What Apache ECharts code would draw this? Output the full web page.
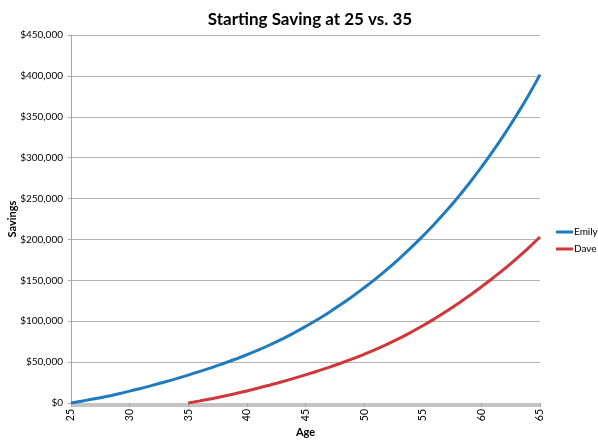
<!DOCTYPE html>
<html lang="en">
  <head>
    <meta charset="UTF-8" />
    <title>Starting Saving at 25 vs. 35</title>
    <script src="https://cdn.jsdelivr.net/npm/echarts@6.0.0/dist/echarts.min.js"></script>
    <style>
      html, body { margin: 0; padding: 0; background: #fff; }
    </style>
  </head>
  <body>
    <div id="main" style="width: 598px; height: 447px"></div>
    <script type="text/javascript">
      // ages (years) and savings
      const emilyAges = [25, 26, 27, 28, 29, 30, 31, 32, 33, 34, 35, 36, 37, 38, 39, 40, 41, 42, 43, 44, 45,
        46, 47, 48, 49, 50, 51, 52, 53, 54, 55, 56, 57, 58, 59, 60, 61, 62, 63, 64, 65];
      const emilySavings = [0, 2500, 5100, 7900, 11100, 14500, 18100, 21800, 25700, 29800, 34100,
        38600, 43300, 48300, 53500, 59000, 64900, 71300, 78200, 85600, 93500,
        101900, 110800, 120300, 130300, 140900, 152100, 164000, 176600, 189900, 204000,
        218900, 234700, 251500, 269300, 288200, 308200, 329400, 351900, 375700, 401500];

      const daveAges = [35, 36, 37, 38, 39, 40, 41, 42, 43, 44, 45, 46, 47, 48, 49, 50,
        51, 52, 53, 54, 55, 56, 57, 58, 59, 60, 61, 62, 63, 64, 65];
      const daveSavings = [0, 2600, 5300, 8200, 11300, 14700, 18300, 22100, 26000, 30100, 34400,
        38900, 43600, 48600, 53900, 59500, 65500, 72000, 79000, 86500, 94500,
        103000, 112000, 121500, 131500, 142000, 153000, 164500, 176500, 189500, 203000];

      const seriesNames = ['Emily', 'Dave'];
      const xTicks = [25, 30, 35, 40, 45, 50, 55, 60, 65];

      const pairs = (xs, ys) => xs.map((x, i) => [x, ys[i]]);
      const money = (v) => '$' + v.toLocaleString('en-US');

      const myChart = echarts.init(document.getElementById('main'), null, { renderer: 'canvas' });

      const axisGray = '#a6a6a6';
      const font = 'Lato, "Open Sans", sans-serif';

      const option = {
        animation: false,
        backgroundColor: '#fff',
        title: {
          text: 'Starting Saving at 25 vs. 35',
          left: 305,
          top: 6,
          textAlign: 'center',
          textStyle: { fontFamily: font, fontSize: 17, fontWeight: 'bold', color: '#000' },
        },
        legend: {
          data: seriesNames,
          orient: 'vertical',
          left: 551,
          top: 222,
          itemGap: 7,
          itemWidth: 17,
          itemHeight: 3,
          icon: 'rect',
          textStyle: { fontFamily: font, fontSize: 10, color: '#000', padding: [0, 0, 0, -4] },
        },
        grid: { left: 71, right: 58, top: 35, bottom: 44, containLabel: false, outerBoundsMode: 'none' },
        xAxis: {
          type: 'value',
          min: xTicks[0],
          max: xTicks[xTicks.length - 1],
          interval: 5,
          name: 'Age',
          nameLocation: 'middle',
          nameGap: 24,
          nameMoveOverlap: false,
          nameTextStyle: { fontFamily: font, fontSize: 11, fontWeight: 'bold', color: '#000' },
          axisLine: { lineStyle: { color: axisGray, width: 1 } },
          axisTick: { show: true, length: 4, lineStyle: { color: axisGray } },
          minorTick: { show: true, splitNumber: 60, length: 4, lineStyle: { color: '#c4c4c4' } },
          splitLine: { show: false },
          axisLabel: {
            rotate: 90,
            margin: 6,
            fontFamily: font,
            fontSize: 10.5,
            color: '#000',
          },
        },
        yAxis: {
          type: 'value',
          min: 0,
          max: 450000,
          interval: 50000,
          name: 'Savings',
          nameLocation: 'middle',
          nameGap: 53,
          nameMoveOverlap: false,
          nameTextStyle: { fontFamily: font, fontSize: 11, fontWeight: 'bold', color: '#000' },
          axisLine: { show: true, lineStyle: { color: axisGray, width: 1 } },
          axisTick: { show: true, length: 3, lineStyle: { color: axisGray } },
          splitLine: { lineStyle: { color: '#b3b3b3', width: 1 } },
          axisLabel: {
            margin: 8,
            fontFamily: font,
            fontSize: 10,
            color: '#000',
            formatter: money,
          },
        },
        series: [
          {
            name: seriesNames[0],
            type: 'line',
            data: pairs(emilyAges, emilySavings),
            smooth: true,
            showSymbol: false,
            lineStyle: { width: 3, color: '#1f7bbd' },
            itemStyle: { color: '#1f7bbd' },
          },
          {
            name: seriesNames[1],
            type: 'line',
            data: pairs(daveAges, daveSavings),
            smooth: true,
            showSymbol: false,
            lineStyle: { width: 3, color: '#d0373a' },
            itemStyle: { color: '#d0373a' },
          },
        ],
      };

      myChart.setOption(option);
    </script>
  </body>
</html>
